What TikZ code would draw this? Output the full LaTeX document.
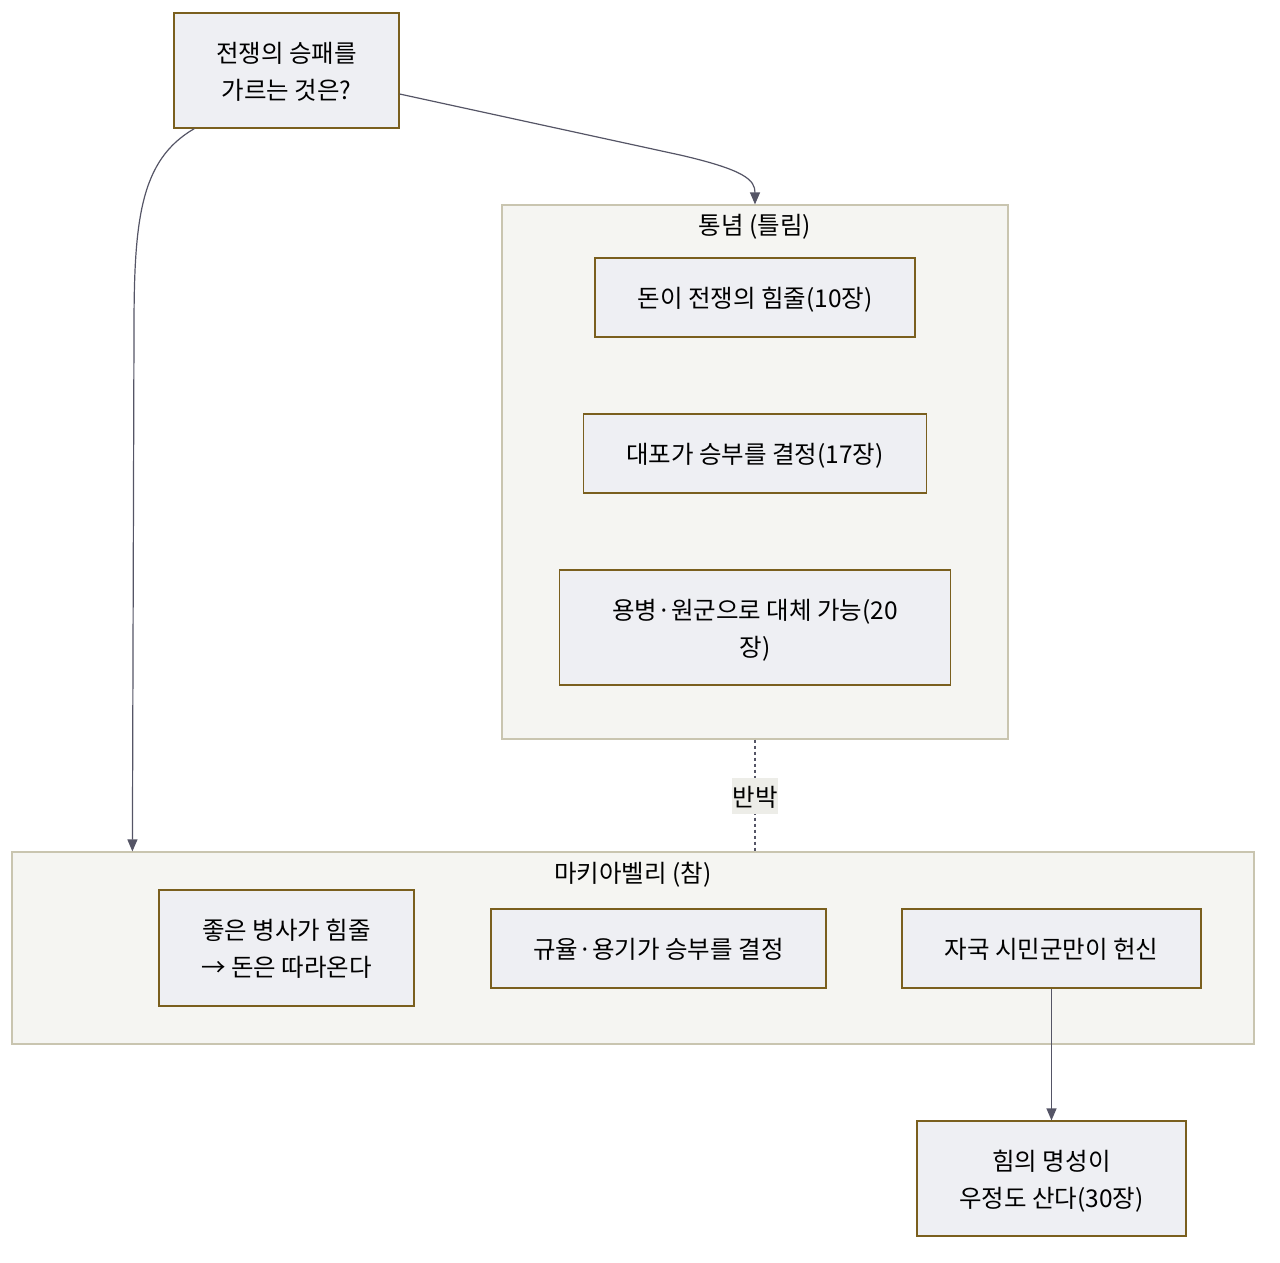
\documentclass[tikz,border=0pt]{standalone}
\usepackage{fontspec}
\setmainfont{Noto Sans CJK KR}
\usetikzlibrary{arrows.meta}
\definecolor{boxfill}{HTML}{EEEFF3}
\definecolor{boxline}{HTML}{7A5F1E}
\definecolor{clfill}{HTML}{F5F5F2}
\definecolor{clline}{HTML}{C9C5B0}
\definecolor{edgec}{HTML}{555566}
\definecolor{lblfill}{HTML}{EDEDE8}
\newcommand{\tx}[1]{\raisebox{-3pt}[\height][\depth]{\begin{tabular}{@{}c@{}}#1\end{tabular}}}
\tikzset{
  box/.style={draw=boxline, fill=boxfill, line width=1.2pt, inner sep=0pt, align=center,
    font=\fontsize{24.5}{37}\selectfont},
  cluster/.style={draw=clline, fill=clfill, line width=1.2pt, inner sep=0pt},
  cltitle/.style={font=\fontsize{24.5}{37}\selectfont, inner sep=0pt},
  edge/.style={draw=edgec, line width=1.2pt, -{Triangle[length=12pt,width=10pt]}},
  dotedge/.style={draw=edgec, line width=1.2pt, dash pattern=on 3pt off 3pt},
  lbl/.style={fill=lblfill, font=\fontsize{24.5}{37}\selectfont, inner sep=0pt, minimum width=44pt, minimum height=36pt}
}
\begin{document}
\begin{tikzpicture}[x=1pt,y=-1pt]
\useasboundingbox (0,0) rectangle (1280,1263);
% clusters
\node[cluster, minimum width=506pt, minimum height=534pt] (c1) at (755,472) {};
\node[cltitle] (c1t) at (755,227) {통념 (틀림)};
\node[cluster, minimum width=1242pt, minimum height=192pt] (c2) at (633,948) {};
\node[cltitle] (c2t) at (633,875) {마키아벨리 (참)};
% nodes
\node[box, minimum width=225pt, minimum height=115pt] (top) at (286.5,70.5) {\tx{전쟁의 승패를\\가르는 것은?}};
\node[box, minimum width=320pt, minimum height=79pt] (n1) at (755,297.5) {\tx{돈이 전쟁의 힘줄(10장)}};
\node[box, minimum width=343pt, minimum height=79pt] (n2) at (755,453.5) {\tx{대포가 승부를 결정(17장)}};
\node[box, minimum width=391pt, minimum height=115pt] (n3) at (755,627.5) {\tx{용병·원군으로 대체 가능(20\\장)}};
\node[box, minimum width=255pt, minimum height=116pt] (m1) at (286.5,948) {\tx{좋은 병사가 힘줄\\→ 돈은 따라온다}};
\node[box, minimum width=335pt, minimum height=79pt] (m2) at (658.5,948.5) {\tx{규율·용기가 승부를 결정}};
\node[box, minimum width=299pt, minimum height=79pt] (m3) at (1051.5,948.5) {\tx{자국 시민군만이 헌신}};
\node[box, minimum width=269pt, minimum height=115pt] (bot) at (1051.5,1178.5) {\tx{힘의 명성이\\우정도 산다(30장)}};
% edges
\draw[edge] ([yshift=-23.5pt]top.east) -- (680,155) .. controls (745,170) and (755,180) .. (c1.north);
\draw[edge] ([xshift=21pt]top.south west) .. controls (140,160) and (134,220) .. (134,330) -- ([xshift=121pt]c2.north west);
\draw[dotedge] (c1.south) -- (c1.south |- c2.north) coordinate[pos=0.5] (mid);
\node[lbl] (rb) at (mid) {\raisebox{-2pt}[\height][\depth]{반박}};
\draw[edge] (m3.south) -- (bot.north);
\end{tikzpicture}
\end{document}
